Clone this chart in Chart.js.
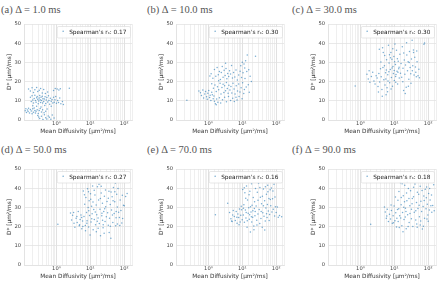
<!DOCTYPE html>
<html>
<head>
<meta charset="utf-8">
<script src="https://cdn.jsdelivr.net/npm/chart.js@4.4.1/dist/chart.umd.min.js"></script>
<style>
  body { margin: 0; background: #fff; width: 440px; height: 281px; position: relative; overflow: hidden; }
  canvas { position: absolute; }
  .ttl { position: absolute; font-family: "Liberation Serif", serif; font-size: 10.5px; line-height: 10px; color: #555; white-space: nowrap; -webkit-font-smoothing: antialiased; }
</style>
</head>
<body>
<script>
// Mean diffusivity [um^2/ms] (x) and D* [um^2/ms] (y), one pair list per panel
const ptsA = [[0.15,16.2],[0.17,15.1],[0.19,16.8],[0.21,14.3],[0.23,15.8],[0.26,16.9],[0.28,14.8],[0.31,15.5],[0.34,16.4],[0.38,14.1],[0.42,15.9],[0.47,13.8],[0.55,14.6],[0.82,15.3],[0.92,16.4],[1.05,16.1],[1.18,15.6],[1.3,16.3],[2.4,16.5],
  [0.17,11.8],[0.18,9.6],[0.19,12.6],[0.2,10.4],[0.21,8.8],[0.22,11.2],[0.23,12.9],[0.24,10.1],[0.25,9.2],[0.26,11.6],[0.27,12.3],[0.28,10.8],[0.29,8.4],[0.3,9.9],[0.31,11.4],[0.32,12.8],[0.33,10.5],[0.34,9.1],[0.35,11.9],[0.36,10.2],[0.38,12.4],[0.39,8.9],[0.4,11.1],[0.42,9.7],[0.44,10.9],[0.46,12.1],[0.48,8.6],[0.5,10.4],[0.52,11.7],[0.55,9.4],[0.58,12.6],[0.6,10.1],[0.63,8.2],[0.66,11.3],[0.7,9.8],[0.74,10.7],[0.78,8.9],[0.82,11.9],[0.86,9.3],[0.9,10.5],[0.95,12.3],[1.0,8.7],[1.08,10.2],[1.15,9.1],[1.25,11.4],[1.35,8.4],[1.5,9.6],[1.6,8.1],
  [0.12,4.8],[0.125,5.9],[0.13,3.9],[0.14,5.2],[0.145,4.4],[0.15,6.1],[0.16,3.6],[0.17,5.5],[0.18,4.7],[0.19,3.2],[0.2,5.8],[0.21,4.1],[0.22,6.3],[0.23,5.0],[0.24,3.7],[0.25,4.6],[0.27,5.4],[0.29,3.4],[0.31,4.9],[0.33,6.0],[0.36,4.2],[0.39,5.3],[0.43,3.8],[0.48,4.5],[0.53,5.7],
  [0.26,7.2],[0.35,6.8],[0.45,7.6],[0.7,7.1],[0.2,7.4],
  [0.28,2.4],[0.32,0.8],[0.36,1.9],[0.4,0.3],[0.44,2.7],[0.48,1.2],[0.52,0.5],[0.57,2.1],[0.62,1.4],[0.68,0.4],[0.75,2.6],[0.85,1.0],[0.3,1.5]];

const ptsB = [[0.23,10.3],
  [0.52,15.1],[0.58,14.2],[0.62,12.8],[0.68,15.6],[0.72,11.4],[0.78,13.5],[0.82,14.8],[0.88,12.1],[0.92,10.8],[0.96,13.9],[1.02,15.3],[1.08,11.7],[1.12,12.9],[1.18,10.2],[1.25,14.4],[1.3,13.2],[1.38,11.1],[1.45,12.5],
  [1.5,9.8],[1.6,8.4],[1.75,10.9],[1.9,9.2],[2.1,11.6],[2.3,8.9],[2.6,10.5],[3.0,11.9],[3.4,9.5],[3.9,12.2],[4.5,10.1],[5.2,11.3],[5.8,9.7],[6.5,11.8],[1.7,7.9],
  [1.4,16.5],[1.55,18.2],[1.7,14.9],[1.85,17.3],[2.0,15.8],[2.2,19.1],[2.35,13.6],[2.5,16.9],[2.7,18.6],[2.85,14.3],[3.0,17.8],[3.2,15.2],[3.4,19.5],[3.6,16.4],[3.8,13.9],[4.0,18.1],[4.3,15.6],[4.6,17.4],[4.9,14.1],[5.3,19.2],[5.7,16.2],[6.1,13.5],[6.6,17.9],[7.2,15.1],[7.8,18.7],[8.5,14.6],[9.2,16.8],[10.2,19.4],[11.5,15.9],[13.0,17.2],[1.25,18.9],
  [1.2,24.1],[1.35,21.7],[1.5,26.3],[1.65,22.8],[1.8,27.4],[1.95,23.6],[2.1,25.2],[2.25,21.1],[2.4,24.7],[2.55,27.9],[2.7,22.3],[2.9,25.9],[3.1,23.2],[3.3,26.8],[3.5,21.5],[3.7,24.2],[3.95,22.7],[4.2,25.6],[4.5,23.9],[4.8,28.4],[5.1,21.9],[5.5,24.8],[6.0,22.4],[6.5,26.1],[7.1,20.8],[7.8,23.5],[8.6,25.4],[9.5,22.1],[10.5,24.6],[1.1,22.9],[3.2,29.6],[2.0,20.5],
  [9.0,28.3],[10.0,30.1],[11.2,29.2],[12.5,30.8],[14.0,33.9],[15.5,26.2],[17.0,22.8],[18.5,20.1],[24.5,33.2],[11.8,27.1],[13.5,25.3],[16.0,14.5],[15.0,18.3],[12.0,21.6],
  [8.0,12.2],[9.8,11.1],[11.0,13.8],[7.0,10.4]];

const ptsC = [[0.7,17.7],
  [1.55,23.8],[1.7,21.4],[1.9,19.6],[2.1,22.7],[2.3,24.9],[2.5,20.3],[2.7,18.7],[2.9,23.1],[1.8,25.6],
  [3.1,21.9],[3.3,17.4],[3.5,24.2],[3.7,19.8],[3.9,26.7],[4.1,22.5],[4.3,15.9],[4.5,37.6],[4.7,35.1],[4.9,20.9],[5.1,28.3],[5.3,18.2],[5.5,24.6],[5.7,13.1],[5.9,31.4],[6.1,16.8],[3.6,36.8],[4.0,30.2],[4.6,27.4],[5.2,33.6],[5.6,21.3],[3.4,14.6],[4.4,12.4],[5.8,26.0],[6.3,14.7],
  [6.4,23.6],[6.7,38.9],[7.0,29.7],[7.3,19.4],[7.6,26.3],[7.9,35.2],[8.2,22.1],[8.5,31.6],[8.8,17.6],[9.1,27.8],[9.4,24.2],[9.7,33.1],[10.0,20.6],[10.4,39.6],[10.8,28.9],[11.2,23.7],[11.6,36.3],[12.0,25.4],[12.5,18.8],[13.0,30.6],[13.5,26.7],[14.0,21.9],[14.6,34.2],[15.2,24.4],[6.9,25.1],[7.7,32.4],[8.6,27.1],[9.9,25.8],[10.9,22.7],[12.3,31.9],[13.8,27.5],[6.5,20.3],[8.0,16.1],[9.0,37.1],[11.0,19.7],[12.8,24.9],[7.2,34.0],[10.2,30.3],
  [15.8,29.4],[16.5,22.3],[17.2,38.1],[18.0,26.9],[18.8,15.4],[19.6,31.2],[20.5,23.8],[21.4,28.6],[22.4,17.1],[23.4,33.8],[24.5,25.6],[25.6,30.4],[26.8,21.2],[28.0,35.7],[29.3,27.3],[30.6,24.1],[32.0,31.8],[33.5,41.6],[35.0,28.2],[36.6,36.5],[38.3,23.4],[40.0,32.7],[17.8,19.9],[21.0,13.8],[26.0,17.6],[31.0,19.1],[27.5,29.9],[34.0,25.7],[19.0,34.9],[23.0,40.2],[37.0,35.2],
  [42.0,27.6],[44.5,22.5],[47.0,30.3],[50.0,23.1],[53.0,26.4],[46.0,35.9],[75.0,39.4],[78.0,40.1],[43.0,24.9],[55.0,22.0]];

const ptsD = [[1.1,21.2],
  [2.6,27.1],[2.8,23.4],[3.0,25.9],[3.3,21.8],[3.5,19.6],[3.8,24.4],[4.1,22.2],[4.4,27.8],[4.7,20.4],[5.0,23.7],[5.3,26.1],[5.6,18.9],[5.9,22.9],[3.2,27.3],[4.0,25.2],[4.8,21.0],[5.5,24.8],[6.0,20.1],
  [6.2,38.6],[6.5,25.3],[6.8,31.7],[7.1,20.6],[7.4,35.2],[7.7,27.4],[8.0,23.1],[8.3,39.7],[8.6,29.9],[8.9,19.8],[9.2,33.5],[9.5,25.8],[9.8,15.6],[10.1,37.1],[10.5,22.4],[10.9,30.6],[11.3,26.7],[11.7,41.2],[12.1,18.3],[6.7,36.6],[7.9,21.8],[9.0,28.2],[10.3,34.3],[11.0,24.1],[12.0,32.8],[7.2,17.8],[8.8,38.2],
  [12.6,28.9],[13.1,23.7],[13.7,36.4],[14.3,20.9],[14.9,31.3],[15.5,26.2],[16.2,40.8],[16.9,24.5],[17.6,33.9],[18.4,21.6],[19.2,29.1],[20.0,15.2],[20.9,37.5],[21.8,25.7],[22.8,32.2],[23.8,19.4],[24.9,27.9],[26.0,35.8],[27.2,22.6],[28.4,30.4],[29.7,25.1],[13.0,38.9],[15.0,17.3],[18.0,42.1],[22.0,27.0],[25.5,16.6],[28.0,39.1],[14.0,27.6],[17.0,19.2],[19.8,34.6],[23.0,23.3],[26.5,29.3],[16.0,22.8],[21.0,41.0],[24.0,21.0],
  [31.0,33.1],[32.4,27.2],[33.9,20.7],[35.4,38.4],[37.0,24.3],[38.7,31.5],[40.4,13.9],[42.2,28.7],[44.1,35.6],[46.1,22.1],[48.2,40.3],[50.4,26.8],[52.7,32.9],[55.0,42.6],[57.5,24.6],[60.0,36.9],[62.7,30.2],[65.5,39.8],[68.5,27.5],[34.0,34.8],[39.0,20.2],[45.0,26.0],[53.0,38.2],[58.0,27.9],[36.0,16.9],[47.0,33.4],[63.0,21.4],[41.0,38.0],[56.0,20.5],
  [72.0,24.8],[76.0,33.8],[80.0,28.4],[85.0,21.9],[90.0,24.2],[95.0,31.1],[100.0,30.8],[110.0,35.7],[122.0,37.3],[74.0,20.6],[88.0,36.3]];

const ptsE = [[1.6,26.2],[3.7,32.1],
  [4.2,27.3],[4.6,24.1],[5.0,22.6],[5.4,28.4],[5.8,25.3],[6.2,23.2],[6.6,27.9],[7.0,21.7],[7.4,26.6],[7.8,24.7],[8.2,29.2],[8.6,22.4],[9.0,25.9],[9.5,28.8],[9.9,23.6],[5.2,26.0],[6.9,24.9],[8.0,20.9],[9.3,30.6],[4.8,22.9],
  [10.3,39.3],[10.7,26.1],[11.1,31.4],[11.5,22.3],[11.9,37.6],[12.3,28.7],[12.8,24.5],[13.3,41.1],[13.8,19.6],[14.3,33.9],[14.9,26.9],[15.5,29.8],[16.1,23.8],[16.7,38.4],[17.3,17.2],[18.0,27.6],[18.7,42.3],[19.4,31.1],[20.2,24.9],[21.0,35.2],[21.8,20.3],[22.7,29.4],[23.6,25.6],[24.5,39.8],[11.4,40.2],[12.6,34.8],[14.0,23.1],[15.8,36.6],[17.5,30.4],[19.0,22.4],[20.5,28.3],[22.0,18.4],[23.0,33.0],[10.8,29.5],[16.4,26.2],[13.0,27.3],[18.5,25.1],[24.0,27.9],
  [25.5,30.7],[26.6,23.3],[27.7,37.9],[28.9,26.5],[30.1,42.6],[31.4,28.9],[32.7,21.6],[34.1,35.3],[35.5,24.2],[37.0,31.9],[38.6,19.7],[40.2,27.2],[41.9,39.6],[43.7,25.4],[45.6,33.4],[47.5,22.9],[49.5,29.7],[51.6,36.8],[53.8,24.8],[56.1,41.5],[58.5,28.1],[61.0,34.6],[63.6,26.3],[66.3,39.2],[69.1,30.8],[29.0,33.7],[33.0,40.4],[36.0,27.8],[42.0,30.9],[46.0,18.2],[52.0,26.7],[57.0,38.1],[62.0,23.2],[27.0,20.8],[39.0,35.8],[48.0,40.7],[55.0,31.5],[67.0,34.1],
  [72.0,40.1],[75.0,27.6],[78.0,34.5],[82.0,29.1],[86.0,42.0],[90.0,25.5],[95.0,30.4],[100.0,27.3],[108.0,30.2],[115.0,24.9],[125.0,25.8],[145.0,25.1],[190.0,36.1],[200.0,34.0],[80.0,38.6],[92.0,35.4]];

const ptsF = [[2.0,21.2],
  [5.1,30.2],[5.4,27.6],[5.8,24.3],[6.2,29.1],[6.7,22.7],[7.2,26.4],[7.7,23.9],[8.2,28.4],[8.7,21.8],[9.2,25.6],[9.8,30.7],[10.4,23.1],[11.0,27.2],[11.6,19.8],[6.0,25.5],[8.0,31.2],[9.5,22.0],[10.8,35.4],[11.9,24.4],
  [12.4,28.9],[13.0,22.6],[13.7,38.3],[14.4,25.7],[15.1,42.9],[15.9,31.4],[16.7,20.4],[17.5,27.3],[18.4,36.1],[19.3,23.7],[20.3,41.6],[21.3,29.6],[22.4,18.9],[23.5,33.4],[24.7,26.2],[26.0,39.9],[27.3,22.1],[28.7,30.8],[12.8,33.7],[14.0,19.5],[16.0,35.2],[17.0,42.3],[19.0,30.1],[21.0,25.0],[23.0,37.5],[25.5,20.1],[27.0,34.6],[29.0,26.8],[15.5,24.5],[18.0,17.3],[20.0,33.0],[22.0,27.8],[24.0,43.1],[13.5,29.3],
  [30.2,38.7],[31.8,24.1],[33.4,31.9],[35.1,20.0],[36.9,35.6],[38.8,27.5],[40.8,42.2],[42.9,23.4],[45.1,32.5],[47.4,19.6],[49.8,29.4],[52.4,36.8],[55.1,25.1],[57.9,20.8],[60.9,33.2],[64.0,27.9],[67.3,18.8],[70.7,30.5],[74.3,36.0],[78.1,24.4],[32.0,29.0],[37.0,40.5],[43.0,28.2],[48.0,37.9],[54.0,31.1],[60.0,22.9],[66.0,38.8],[72.0,20.2],[34.0,34.7],[46.0,21.4],[58.0,41.0],[76.0,33.6],
  [82.0,39.4],[86.0,29.3],[90.0,40.6],[94.0,31.6],[98.0,26.1],[103.0,37.2],[108.0,28.6],[114.0,33.8],[120.0,30.9],[128.0,27.5],[136.0,31.0],[145.0,41.8],[150.0,28.3],[88.0,35.0],[100.0,22.8],[92.0,24.0],[110.0,39.9],[125.0,36.4]];

const titles = ['(a) Δ = 1.0 ms', '(b) Δ = 10.0 ms', '(c) Δ = 30.0 ms', '(d) Δ = 50.0 ms', '(e) Δ = 70.0 ms', '(f) Δ = 90.0 ms'];
const spearman = ['0.17', '0.30', '0.30', '0.27', '0.16', '0.18'];
const allPts = [ptsA, ptsB, ptsC, ptsD, ptsE, ptsF];
const yTicks = [0, 10, 20, 30, 40, 50];

const sup = {'-1': '⁻¹', '0': '⁰', '1': '¹', '2': '²'};
const isDecade = v => Math.abs(Math.log10(v) - Math.round(Math.log10(v))) < 1e-6;
const dotColor = 'rgba(31,119,180,0.6)';

// legend box drawn inside the plot area, top right
const insideLegend = {
  id: 'insideLegend',
  afterDatasetsDraw(chart) {
    const {ctx, chartArea: a} = chart;
    const label = chart.data.datasets[0].label;
    ctx.save();
    ctx.font = '5.8px "DejaVu Sans"';
    const tw = ctx.measureText(label).width;
    const w = tw + 16, h = 11.5;
    const x = a.right - w - 1.5, y = a.top + 2.5;
    ctx.fillStyle = 'rgba(255,255,255,0.85)';
    ctx.strokeStyle = '#dcdcdc';
    ctx.lineWidth = 0.7;
    ctx.beginPath();
    ctx.roundRect(x, y, w, h, 1.5);
    ctx.fill();
    ctx.stroke();
    ctx.fillStyle = dotColor;
    ctx.beginPath();
    ctx.arc(x + 6, y + h / 2 - 1, 0.8, 0, Math.PI * 2);
    ctx.fill();
    ctx.fillStyle = '#222';
    ctx.textBaseline = 'middle';
    ctx.fillText(label, x + 12, y + h / 2 + 0.3);
    ctx.restore();
  }
};

const colLeft = [0, 152, 304];
const rowTop = [0, 145];
const titleLeft = [1, 147, 292];
const titleTop = [5, 145];

allPts.forEach((pts, i) => {
  const col = i % 3, row = Math.floor(i / 3);
  const t = document.createElement('div');
  t.className = 'ttl';
  t.textContent = titles[i];
  t.style.left = titleLeft[col] + 'px';
  t.style.top = titleTop[row] + 'px';
  document.body.appendChild(t);

  const cv = document.createElement('canvas');
  cv.width = 136; cv.height = 136;
  cv.style.left = colLeft[col] + 'px';
  cv.style.top = rowTop[row] + 'px';
  document.body.appendChild(cv);

  new Chart(cv, {
    type: 'scatter',
    data: {
      datasets: [{
        label: "Spearman's rₛ: " + spearman[i],
        data: pts.map(p => ({x: p[0], y: p[1]})),
        backgroundColor: dotColor,
        borderWidth: 0,
        pointRadius: 0.75
      }]
    },
    options: {
      responsive: false,
      animation: false,
      layout: {padding: {top: 24, right: 4, left: 0, bottom: 0}},
      plugins: {legend: {display: false}, tooltip: {enabled: false}},
      scales: {
        x: {
          type: 'logarithmic', min: 0.11, max: 170,
          grid: {color: c => (c.tick && isDecade(c.tick.value)) ? '#d9d9d9' : '#ebebeb', lineWidth: 0.8, drawTicks: false},
          border: {color: '#e3e3e3'},
          ticks: {
            autoSkip: false, maxRotation: 0, padding: 1, color: '#444',
            font: {family: 'DejaVu Sans', size: 5.2},
            callback: v => isDecade(v) ? '10' + sup[String(Math.round(Math.log10(v)))] : ''
          },
          title: {display: true, text: 'Mean Diffusivity [μm²/ms]', color: '#333', font: {family: 'DejaVu Sans', size: 5.8}, padding: {top: 0, bottom: 1}},
          afterFit: s => { s.height = 16; }
        },
        y: {
          min: 0, max: 50,
          afterBuildTicks: s => { s.ticks = yTicks.map(v => ({value: v})); },
          grid: {color: '#e3e3e3', lineWidth: 0.8, drawTicks: false},
          border: {color: '#e3e3e3'},
          ticks: {padding: 3, color: '#444', font: {family: 'DejaVu Sans', size: 5.2}},
          title: {display: true, text: 'D* [μm²/ms]', color: '#333', font: {family: 'DejaVu Sans', size: 5.8}, padding: {top: 6, bottom: 0}},
          afterFit: s => { s.width = 24; }
        }
      }
    },
    plugins: [insideLegend]
  });
});
</script>
</body>
</html>
